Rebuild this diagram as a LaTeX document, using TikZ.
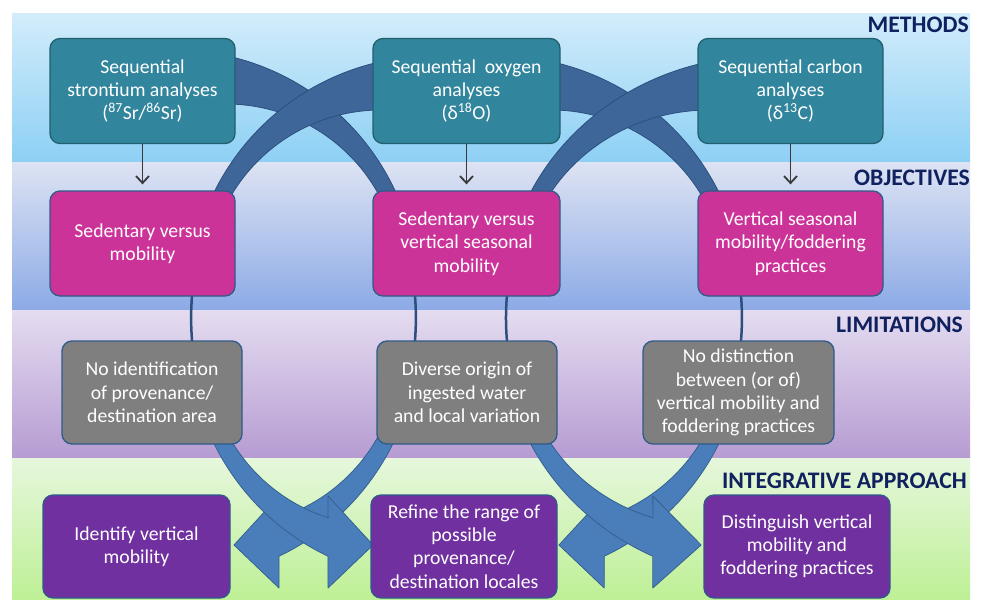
\documentclass[tikz,border=0pt]{standalone}
\usepackage{fontspec}
\setmainfont{Carlito}
\usepackage{tikz}
\usetikzlibrary{arrows.meta}
\usetikzlibrary{calc}

\definecolor{methodfill}{HTML}{31859C}
\definecolor{methodline}{HTML}{23606F}
\definecolor{objfill}{HTML}{CC3399}
\definecolor{limfill}{HTML}{7F7F7F}
\definecolor{intfill}{HTML}{7030A0}
\definecolor{boxline}{HTML}{2F5B88}
\definecolor{headcol}{HTML}{10215F}
\definecolor{upperfill}{HTML}{3E6699}
\definecolor{upperline}{HTML}{2C4F7E}
\definecolor{lowerfill}{HTML}{4A7EBB}
\definecolor{lowerline}{HTML}{35608F}
\definecolor{pointer}{HTML}{383838}
\definecolor{mtop}{HTML}{D2ECFB}\definecolor{mbot}{HTML}{8DD0F4}
\definecolor{otop}{HTML}{DDE3F3}\definecolor{obot}{HTML}{8CAAE6}
\definecolor{ltop}{HTML}{E4DCF0}\definecolor{lbot}{HTML}{B69CD2}
\definecolor{itop}{HTML}{E6F7DC}\definecolor{ibot}{HTML}{BEF096}

% one pair of arcs: upper band, thin part, lower band with head
\newcommand{\arcpair}[2][]{%
  \begin{scope}[#2]
    \begin{scope}[#1]
    \filldraw[upperband] ($(433,300)+(191.8:244)$) arc[start angle=191.8,end angle=262.2,radius=244]
      -- ($(381,284)+(276.3:174)$) arc[start angle=276.3,end angle=191.3,radius=174] -- cycle;
    \end{scope}
    \draw[thinpart] (193,285) .. controls (190.5,308) and (190.5,328) .. (193,351);
    \filldraw[lowerband] ($(433,336)+(168.2:244)$) arc[start angle=168.2,end angle=115.5,radius=244]
      -- (328,588) -- (373,545) -- (328,496)
      -- ($(381,352)+(107.7:174)$) arc[start angle=107.7,end angle=168.7,radius=174] -- cycle;
  \end{scope}}

\begin{document}
\begin{tikzpicture}[x=1pt,y=-1pt,
  box/.style={rounded corners=10pt,draw=boxline,line width=1.3pt,text=white,align=center,
    inner sep=0pt,minimum height=105pt,font=\fontsize{19.7}{23.3}\selectfont},
  methodbox/.style={box,fill=methodfill,draw=methodline},
  objbox/.style={box,fill=objfill},
  limbox/.style={box,fill=limfill,minimum height=103pt},
  intbox/.style={box,fill=intfill,minimum height=103pt},
  heading/.style={anchor=base east,inner sep=0pt,text=headcol,font=\fontsize{23.7}{28}\selectfont\bfseries},
  upperband/.style={fill=upperfill,draw=upperline,line width=0.8pt,line join=round},
  lowerband/.style={fill=lowerfill,draw=lowerline,line width=0.8pt,line join=round},
  thinpart/.style={draw=upperline,line width=2.5pt},
  pointerarrow/.style={draw=pointer,line width=1.8pt,-{Straight Barb[length=7pt,width=13pt]},shorten >=6pt}]

\useasboundingbox (0,0) rectangle (981,599);
\fill[white] (0,0) rectangle (981,599);

% background strips
\shade[top color=mtop,bottom color=mbot] (12,14) rectangle (970,162);
\shade[top color=otop,bottom color=obot] (12,162) rectangle (970,310);
\shade[top color=ltop,bottom color=lbot] (12,310) rectangle (970,458);
\shade[top color=itop,bottom color=ibot] (12,458) rectangle (970,599);

% arcs, the left ones on top
\arcpair[yshift=6pt]{xshift=607pt,xscale=-1}
\arcpair{xshift=934.2pt,xscale=-1.006}
\arcpair{}
\arcpair{xshift=300.9pt,xscale=1.073}

% methods
\node[methodbox,minimum width=185pt] (m1) at (142.5,91) {Sequential\\strontium analyses\\(\textsuperscript{87}Sr/\textsuperscript{86}Sr)};
\node[methodbox,minimum width=187pt] (m2) at (466.5,91) {Sequential\ \ oxygen\\analyses\\(δ\textsuperscript{18}O)};
\node[methodbox,minimum width=185pt] (m3) at (790.5,91) {Sequential carbon\\analyses\\(δ\textsuperscript{13}C)};
% objectives
\node[objbox,minimum width=185pt] (o1) at (142.5,243.5) {Sedentary versus\\mobility};
\node[objbox,minimum width=187pt] (o2) at (466.5,243.5) {Sedentary versus\\vertical seasonal\\mobility};
\node[objbox,minimum width=185pt] (o3) at (790.5,243.5) {Vertical seasonal\\mobility/foddering\\practices};
% limitations
\node[limbox,minimum width=180pt] (l1) at (152,392.5) {No identification\\of provenance/\\destination area};
\node[limbox,minimum width=180pt] (l2) at (467,392.5) {Diverse origin of\\ingested water\\and local variation};
\node[limbox,minimum width=191pt] (l3) at (738.5,392.5) {No distinction\\between (or of)\\vertical mobility and\\foddering practices};
% integrative approach
\node[intbox,minimum width=187pt] (i1) at (136.5,546.5) {Identify vertical\\mobility};
\node[intbox,minimum width=186pt] (i2) at (464,546.5) {Refine the range of\\possible\\provenance/\\destination locales};
\node[intbox,minimum width=186pt] (i3) at (797,546.5) {Distinguish vertical\\mobility and\\foddering practices};

% headings
\node[heading] (hm) at (969,33) {METHODS};
\node[heading] (ho) at (970,185) {OBJECTIVES};
\node[heading] (hl) at (963,332) {LIMITATIONS};
\node[heading] (hi) at (967,488) {INTEGRATIVE APPROACH};

\draw[pointerarrow] (m1) -- (o1);
\draw[pointerarrow] (m2) -- (o2);
\draw[pointerarrow] (m3) -- (o3);
\end{tikzpicture}
\end{document}
